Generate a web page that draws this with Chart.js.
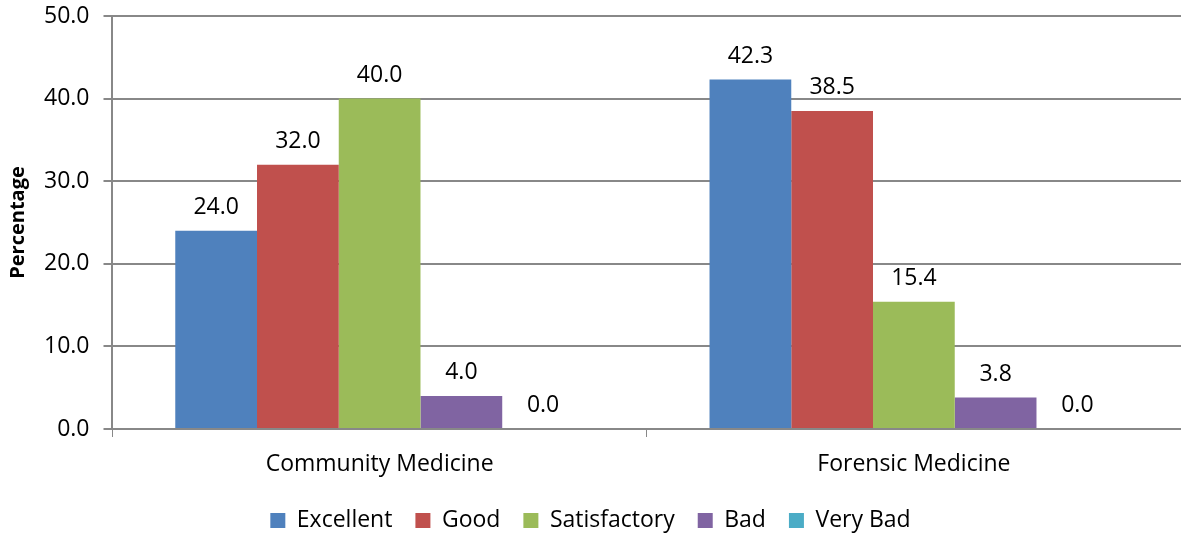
<!DOCTYPE html>
<html>
<head>
<meta charset="utf-8">
<script src="https://cdn.jsdelivr.net/npm/chart.js@4"></script>
<style>
    html, body { margin: 0; padding: 0; background: #fff; }
    #wrap { width: 1181px; height: 535px; }
</style>
</head>
<body>
<div id="wrap"><canvas id="chart"></canvas></div>
<script>
// categories and series
const categories = [ 'Community Medicine', 'Forensic Medicine' ]
const excellent = [ 24.0, 42.3 ]
const good = [ 32.0, 38.5 ]
const satisfactory = [ 40.0, 15.4 ]
const bad = [ 4.0, 3.8 ]
const veryBad = [ 0.0, 0.0 ]
const seriesNames = [ 'Excellent', 'Good', 'Satisfactory', 'Bad', 'Very Bad' ]
const seriesColors = [ '#4F81BD', '#C0504D', '#9BBB59', '#8064A2', '#4BACC6' ]

const FONT = '"Open Sans", sans-serif'
const SIZE = 23

// values above each bar, like the office chart data labels
const barLabels = {
    id: 'barLabels',
    afterDatasetsDraw (chart) {
        const ctx = chart.ctx
        ctx.save()
        ctx.font = `${SIZE}px ${FONT}`
        ctx.fillStyle = '#000'
        ctx.textAlign = 'center'
        ctx.textBaseline = 'bottom'
        chart.data.datasets.forEach((ds, i) => {
            const meta = chart.getDatasetMeta(i)
            meta.data.forEach((bar, j) => {
                ctx.fillText(ds.data[j].toFixed(1), bar.x, bar.y - 12)
            })
        })
        ctx.restore()
    },
}

const allSeries = [ excellent, good, satisfactory, bad, veryBad ]

new Chart(document.getElementById('chart'), {
    type: 'bar',
    data: {
        labels: categories,
        datasets: allSeries.map((data, i) => ({
            label: seriesNames[i],
            data,
            backgroundColor: seriesColors[i],
            categoryPercentage: 0.765,
            barPercentage: 1.0,
        })),
    },
    options: {
        responsive: true,
        maintainAspectRatio: false,
        animation: false,
        layout: { padding: { top: 16, right: 0, left: 0, bottom: -7 } },
        plugins: {
            legend: {
                position: 'bottom',
                labels: {
                    font: { family: FONT, size: SIZE },
                    color: '#000',
                    boxWidth: 15,
                    boxHeight: 15,
                    padding: 23,
                },
            },
            tooltip: { enabled: false },
        },
        scales: {
            x: {
                clip: false,
                afterFit: (scale) => { scale.height = 57 },
                grid: {
                    offset: true,
                    drawOnChartArea: false,
                    drawTicks: true,
                    tickLength: 8,
                    color: '#888',
                },
                border: { color: '#888', width: 2 },
                ticks: {
                    font: { family: FONT, size: SIZE },
                    color: '#000',
                    padding: 14,
                },
            },
            y: {
                min: 0,
                max: 50,
                afterFit: (scale) => { scale.paddingTop = 0 },
                ticks: {
                    stepSize: 10,
                    font: { family: FONT, size: SIZE },
                    color: '#000',
                    padding: 14,
                    callback: (v) => v.toFixed(1),
                },
                grid: {
                    color: '#888',
                    lineWidth: 2,
                    tickLength: 9,
                },
                border: { color: '#888', width: 2 },
                title: {
                    display: true,
                    text: 'Percentage',
                    font: { family: FONT, size: 20, weight: 'bold' },
                    color: '#000',
                    padding: { top: 6, bottom: 0 },
                },
            },
        },
    },
    plugins: [ barLabels ],
})
</script>
</body>
</html>
